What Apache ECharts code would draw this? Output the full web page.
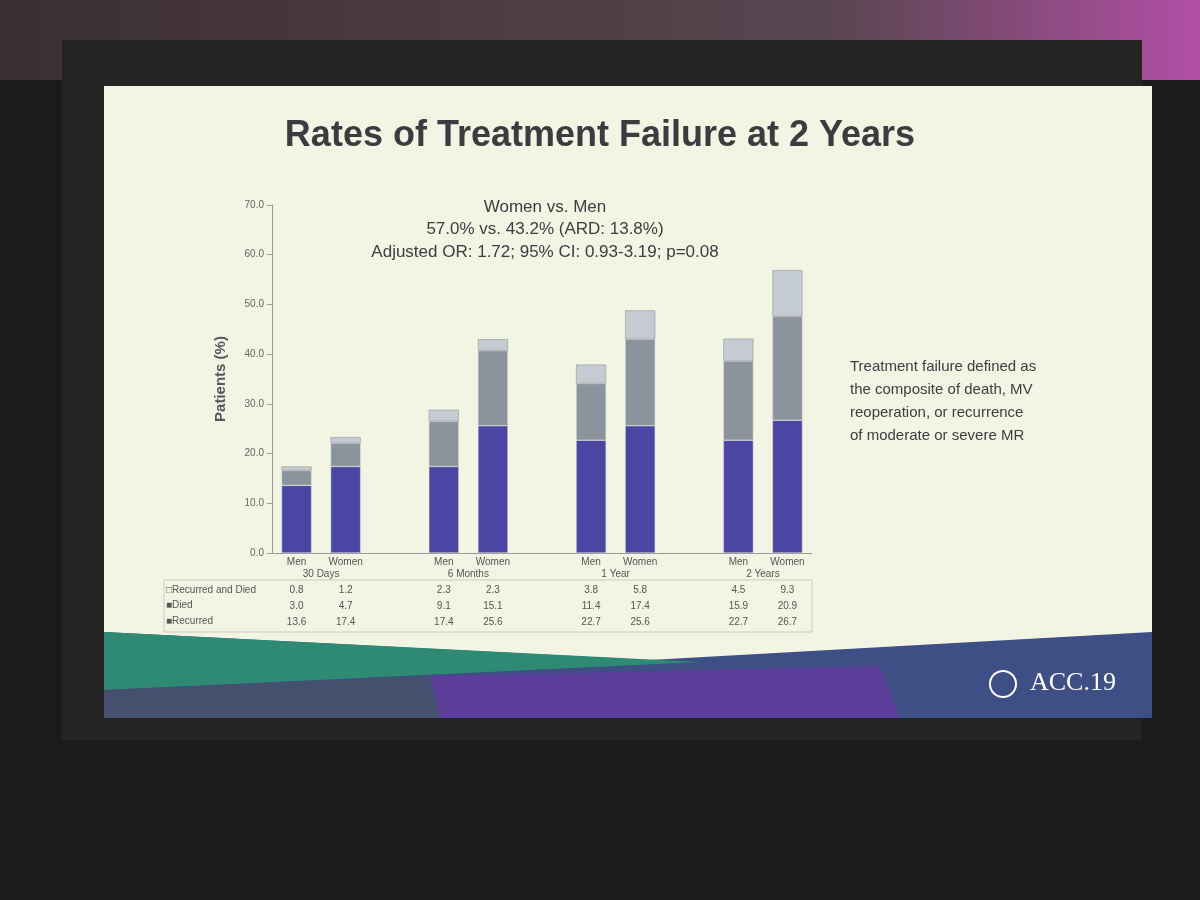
<!DOCTYPE html>
<html lang="en">
<head>
<meta charset="UTF-8">
<title>Rates of Treatment Failure at 2 Years</title>
<style>
  html, body { margin: 0; padding: 0; background: #1c1a1b; }
  #main { width: 1200px; height: 900px; }
</style>
</head>
<body>
<div id="main"></div>
<script src="https://cdn.jsdelivr.net/npm/echarts@6/dist/echarts.min.js"></script>
<script>
var chart = echarts.init(document.getElementById('main'));

// slots: Men, Women, gap, ...
var sexLabels = ['Men', 'Women', '', 'Men', 'Women', '', 'Men', 'Women', '', 'Men', 'Women'];
var groups = ['30 Days', '6 Months', '1 Year', '2 Years'];
var recurred        = [13.6, 17.4, null, 17.4, 25.6, null, 22.7, 25.6, null, 22.7, 26.7];
var died            = [3.0, 4.7, null, 9.1, 15.1, null, 11.4, 17.4, null, 15.9, 20.9];
var recurredAndDied = [0.8, 1.2, null, 2.3, 2.3, null, 3.8, 5.8, null, 4.5, 9.3];

var colors = { recurred: '#4b46a3', died: '#8b939d', both: '#c5cbd2' };
var font = 'Liberation Sans, Arial, sans-serif';

function rowAxis(values, offset) {
  return {
    type: 'category', data: sexLabels, position: 'bottom', offset: offset,
    axisLine: { show: false }, axisTick: { show: false },
    axisLabel: {
      interval: 0, margin: 0, fontSize: 10, color: '#555', fontFamily: font,
      formatter: function (v, i) { return values[i] == null ? '' : values[i].toFixed(1); }
    }
  };
}

var option = {
  backgroundColor: '#1c1a1b',
  graphic: [
    { type: 'rect', shape: { x: 0, y: 0, width: 1200, height: 80 },
      style: { fill: new echarts.graphic.LinearGradient(0, 0, 1, 0, [
        { offset: 0, color: '#3a2e33' }, { offset: 0.7, color: '#5a4650' }, { offset: 1, color: '#b24fa6' }]) }, z: -10 },
    { type: 'rect', shape: { x: 62, y: 40, width: 1080, height: 700 }, style: { fill: '#262324' }, z: -9 },
    { type: 'rect', shape: { x: 104, y: 86, width: 1048, height: 632 }, style: { fill: '#f2f4e4' }, z: -8 },
    { type: 'polygon', shape: { points: [[104, 632], [650, 660], [1152, 632], [1152, 718], [104, 718]] },
      style: { fill: '#3e4f86' }, z: -7 },
    { type: 'polygon', shape: { points: [[104, 632], [700, 662], [104, 690]] }, style: { fill: '#2f8a74' }, z: -6 },
    { type: 'polygon', shape: { points: [[430, 676], [880, 666], [900, 718], [440, 718]] }, style: { fill: '#5a3e9a' }, z: -6 },
    { type: 'polygon', shape: { points: [[104, 690], [430, 676], [440, 718], [104, 718]] }, style: { fill: '#45506e' }, z: -6 },
    { type: 'text', left: 'center', top: 118,
      style: { text: 'Rates of Treatment Failure at 2 Years', font: 'bold 36px ' + font, fill: '#3b3b40' } },
    { type: 'text', x: 545, y: 196, style: { text: 'Women vs. Men\n57.0% vs. 43.2% (ARD: 13.8%)\nAdjusted OR: 1.72; 95% CI: 0.93-3.19; p=0.08',
      font: '17px ' + font, fill: '#3d3d42', align: 'center', lineHeight: 22.5 } },
    { type: 'text', x: 850, y: 355, style: { text: 'Treatment failure defined as\nthe composite of death, MV\nreoperation, or recurrence\nof moderate or severe MR',
      font: '15px ' + font, fill: '#3d3d42', lineHeight: 23 } },
    { type: 'text', x: 166, y: 585, style: { text: '\u25A1Recurred and Died', font: '10px ' + font, fill: '#555' } },
    { type: 'text', x: 166, y: 600, style: { text: '\u25A0Died', font: '10px ' + font, fill: '#555' } },
    { type: 'text', x: 166, y: 616, style: { text: '\u25A0Recurred', font: '10px ' + font, fill: '#555' } },
    { type: 'rect', shape: { x: 164, y: 580, width: 648, height: 52 }, style: { fill: 'none', stroke: '#c9ccc0', lineWidth: 1 } },
    { type: 'text', x: 1030, y: 670, style: { text: 'ACC.19', font: '26px Liberation Serif, serif', fill: '#ffffff' } },
    { type: 'circle', shape: { cx: 1003, cy: 684, r: 13 }, style: { fill: 'none', stroke: '#fff', lineWidth: 2 } }
  ],
  grid: { left: 272, right: 388, top: 205, bottom: 347 },
  xAxis: [
    { type: 'category', data: sexLabels,
      axisLine: { lineStyle: { color: '#999' } }, axisTick: { show: false },
      axisLabel: { interval: 0, margin: 4, fontSize: 10, color: '#555', fontFamily: font } },
    { type: 'value', min: -0.5, max: 10.5, interval: 0.5, position: 'bottom', offset: 16,
      axisLine: { show: false }, axisTick: { show: false }, splitLine: { show: false },
      axisLabel: { margin: 0, fontSize: 10, color: '#555', fontFamily: font, showMinLabel: true, showMaxLabel: true,
        formatter: function (v) { var k = Math.round((v - 0.5) / 3); return Math.abs(v - 0.5 - 3 * k) < 0.01 && k >= 0 && k < 4 ? groups[k] : ''; } } },
    rowAxis(recurredAndDied, 32),
    rowAxis(died, 48),
    rowAxis(recurred, 64)
  ],
  yAxis: {
    type: 'value', min: 0, max: 70, interval: 10,
    name: 'Patients (%)', nameLocation: 'middle', nameGap: 44, nameRotate: 90,
    nameTextStyle: { fontSize: 15, fontWeight: 'bold', color: '#55555c', fontFamily: font },
    axisLine: { show: true, onZero: false, lineStyle: { color: '#999' } }, axisTick: { show: true, lineStyle: { color: '#999' } },
    splitLine: { show: false },
    axisLabel: { fontSize: 10, color: '#666', fontFamily: font, formatter: function (v) { return v.toFixed(1); } }
  },
  series: [
    { name: 'Recurred', type: 'bar', stack: 'a', data: recurred, barWidth: 30, itemStyle: { color: colors.recurred, borderColor: '#ddd', borderWidth: 0.5 } },
    { name: 'Died', type: 'bar', stack: 'a', data: died, itemStyle: { color: colors.died, borderColor: '#ddd', borderWidth: 0.5 } },
    { name: 'Recurred and Died', type: 'bar', stack: 'a', data: recurredAndDied, itemStyle: { color: colors.both, borderColor: '#888', borderWidth: 0.5 } }
  ]
};
chart.setOption(option);
</script>
</body>
</html>
